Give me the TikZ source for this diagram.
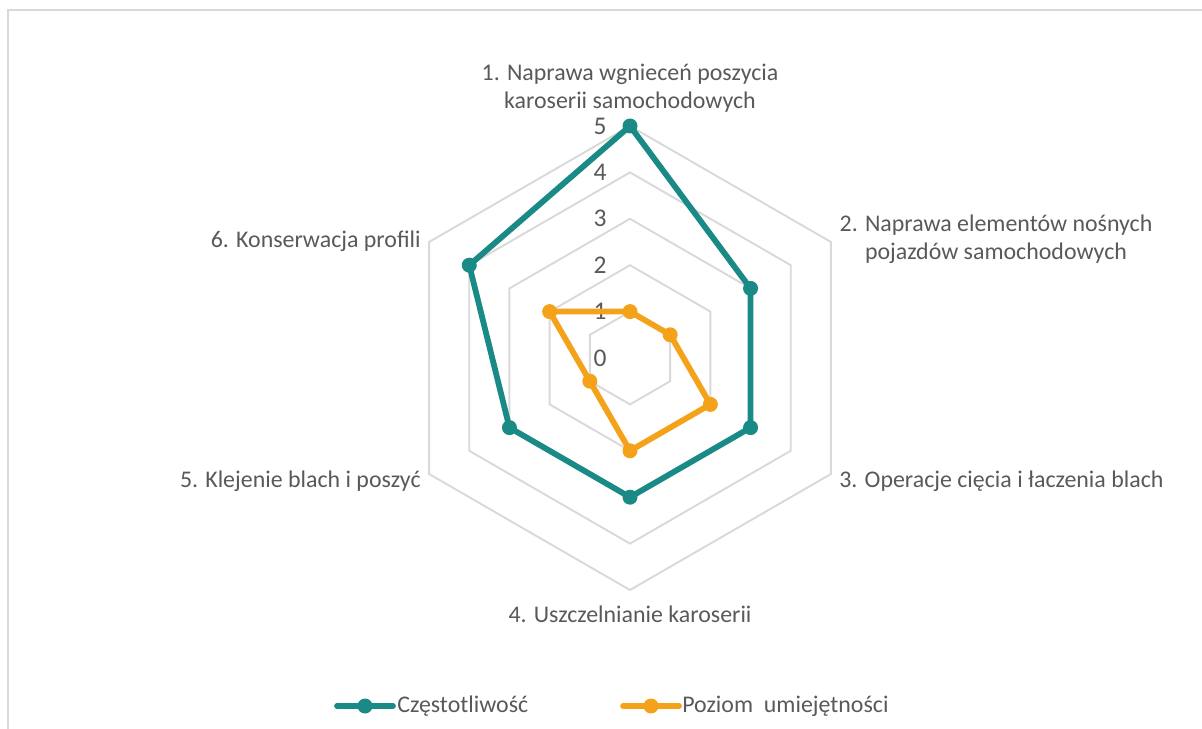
\documentclass[tikz,border=0pt]{standalone}
\usepackage{fontspec}
\setmainfont{Carlito}
\definecolor{freqcol}{HTML}{1A8A86}
\definecolor{skillcol}{HTML}{F5A21B}
\definecolor{gridcol}{HTML}{D9D9D9}
\definecolor{txtcol}{HTML}{595959}

\begin{document}
\begin{tikzpicture}
  [
    x=0.02cm, y=-0.02cm,
    font=\fontsize{13.6}{16}\selectfont, text=txtcol,
    grid/.style={draw=gridcol, line width=1.1pt},
    frq/.style={draw=freqcol, line width=3.3pt, line join=round},
    skl/.style={draw=skillcol, line width=3.3pt, line join=round},
    fdot/.style={circle, fill=freqcol, inner sep=0pt, minimum size=0.3cm},
    sdot/.style={circle, fill=skillcol, inner sep=0pt, minimum size=0.3cm},
    lvl/.style={anchor=east, inner sep=0pt, font=\fontsize{14.5}{16}\selectfont},
    cat/.style={align=center, inner sep=0pt}
  ]
  \useasboundingbox (0,0) rectangle (1202,729);
  \draw [draw=gridcol, line width=0.9pt] (1202,10) -- (8,10) -- (8,729);

  \begin{scope}[shift={(630,358)}]
  % hexagon grid
  \foreach \r in {46.4,92.8,139.2,185.6,232}
    \draw [grid] (-90:\r) -- (-30:\r) -- (30:\r) -- (90:\r) -- (150:\r) -- (210:\r) -- cycle;

  \node (l0) at (-23,    0) [lvl] {0};
  \node (l1) at (-23,-46.4) [lvl] {1};
  \node (l2) at (-23,-92.8) [lvl] {2};
  \node (l3) at (-23,-139.2) [lvl] {3};
  \node (l4) at (-23,-185.6) [lvl] {4};
  \node (l5) at (-23,-232) [lvl] {5};

  % Czestotliwosc
  \node (f1) at (-90:232)   [fdot] {};
  \node (f2) at (-30:139.2) [fdot] {};
  \node (f3) at ( 30:139.2) [fdot] {};
  \node (f4) at ( 90:139.2) [fdot] {};
  \node (f5) at (150:139.2) [fdot] {};
  \node (f6) at (210:185.6) [fdot] {};
  \draw [frq] (f1.center) -- (f2.center) -- (f3.center) -- (f4.center)
    -- (f5.center) -- (f6.center) -- cycle;

  % Poziom umiejetnosci
  \node (p1) at (-90:46.4) [sdot] {};
  \node (p2) at (-30:46.4) [sdot] {};
  \node (p3) at ( 30:92.8) [sdot] {};
  \node (p4) at ( 90:92.8) [sdot] {};
  \node (p5) at (150:46.4) [sdot] {};
  \node (p6) at (210:92.8) [sdot] {};
  \draw [skl] (p1.center) -- (p2.center) -- (p3.center) -- (p4.center)
    -- (p5.center) -- (p6.center) -- cycle;
  \end{scope}

  \node (k1) at (630, 88) [cat] {1. Naprawa wgnieceń poszycia\\karoserii samochodowych};
  \node (k2) at (996,239) [cat] {2. Naprawa elementów nośnych\\pojazdów samochodowych};
  \node (k3) at (839,481) [cat, anchor=west] {3. Operacje cięcia i łaczenia blach};
  \node (k4) at (630,614) [cat] {4. Uszczelnianie karoserii};
  \node (k5) at (421,481) [cat, anchor=east] {5. Klejenie blach i poszyć};
  \node (k6) at (421,241) [cat, anchor=east] {6. Konserwacja profili};

  % legend
  \coordinate (lfa) at (337,706);
  \coordinate (lfb) at (393,706);
  \draw [frq, line cap=round] (lfa) -- (lfb);
  \node (lf) at (365,706) [fdot] {};
  \node (lft) at (397,706) [anchor=west, inner sep=0pt] {Częstotliwość};
  \coordinate (lsa) at (623,706);
  \coordinate (lsb) at (679,706);
  \draw [skl, line cap=round] (lsa) -- (lsb);
  \node (ls) at (651,706) [sdot] {};
  \node (lst) at (682,706) [anchor=west, inner sep=0pt] {Poziom\ \ umiejętności};
\end{tikzpicture}
\end{document}
